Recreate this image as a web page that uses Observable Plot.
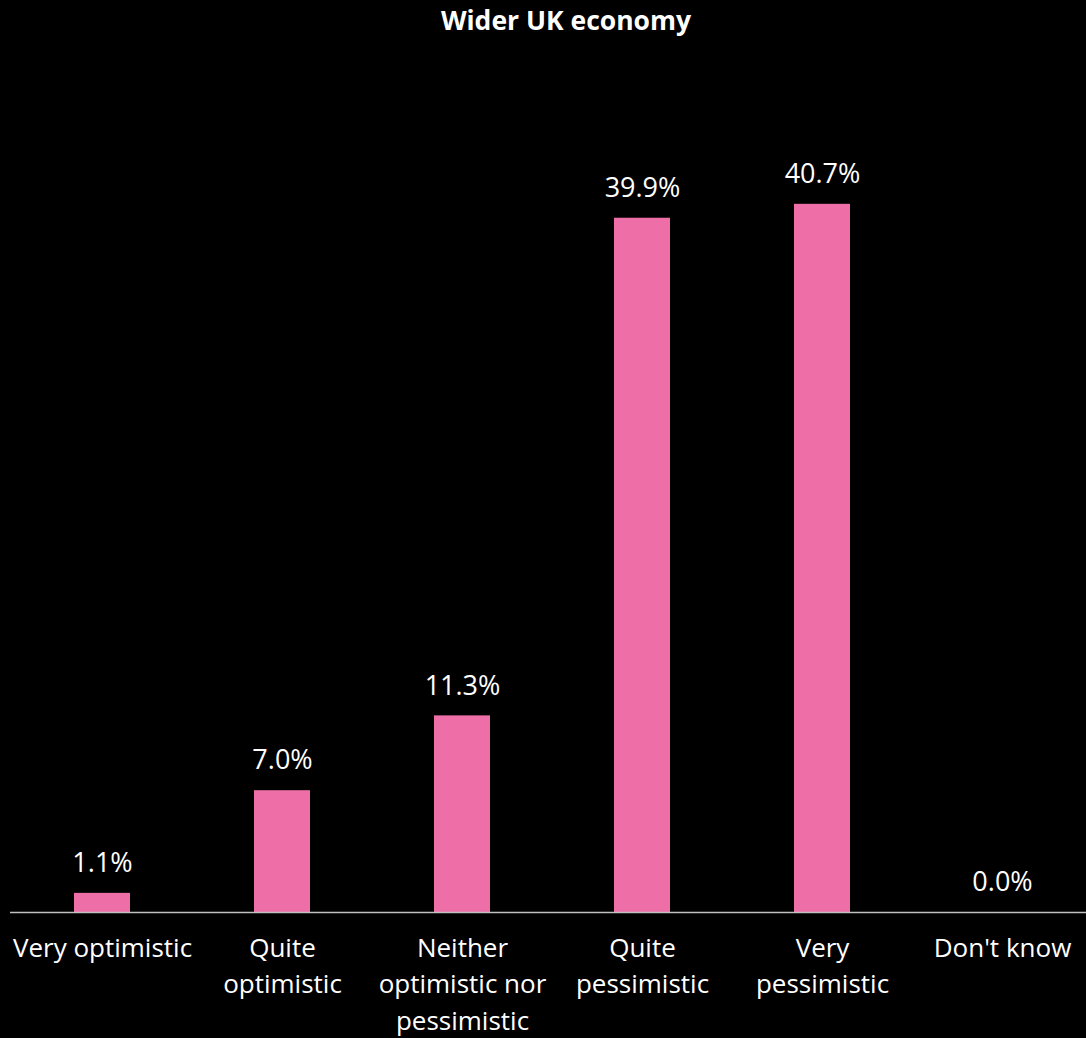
<!DOCTYPE html>
<html>
<head>
<meta charset="utf-8">
<script src="https://cdn.jsdelivr.net/npm/d3@7"></script>
<script src="https://cdn.jsdelivr.net/npm/@observablehq/plot@0.6"></script>
<style>
  html, body { margin: 0; padding: 0; background: #000; }
  #wrap { width: 1086px; height: 1038px; background: #000; overflow: hidden; }
  #title { height: 45px; line-height: 40px; text-align: center; padding-left: 46px; box-sizing: border-box;
           color: #fff; font-family: "Open Sans", Lato, sans-serif; font-weight: bold; font-size: 26.5px; }
</style>
</head>
<body>
<div id="wrap">
  <div id="title">Wider UK economy</div>
  <div id="chart"></div>
</div>
<script>
const categories = ["Very optimistic", "Quite\noptimistic", "Neither\noptimistic nor\npessimistic", "Quite\npessimistic", "Very\npessimistic", "Don't know"];
const values = [1.1, 7.0, 11.3, 39.9, 40.7, 0.0];
const valueLabels = ["1.1%", "7.0%", "11.3%", "39.9%", "40.7%", "0.0%"];

const data = categories.map((c, i) => ({cat: c, value: values[i], label: valueLabels[i]}));

const chart = Plot.plot({
  width: 1086,
  height: 993,
  marginTop: 84,
  marginBottom: 126,
  marginLeft: 10,
  marginRight: 0,
  style: {background: "#000", color: "#fff", fontFamily: "'Open Sans', Lato, sans-serif"},
  x: {type: "band", domain: categories, range: [10, 1093.5], paddingInner: 0.687, paddingOuter: 0.3435, axis: null},
  y: {domain: [0, 45], axis: null},
  marks: [
    Plot.barY(data, {x: "cat", y: "value", fill: "#EE6FA7"}),
    Plot.ruleY([0], {stroke: "#bfbfbf", strokeWidth: 1.5}),
    Plot.text(data, {x: "cat", y: "value", text: "label", dy: -30, fill: "#fff", fontSize: 27, lineAnchor: "middle"}),
    Plot.text(data, {x: "cat", text: "cat", frameAnchor: "bottom", dy: 18, lineAnchor: "top", lineHeight: 1.41, fill: "#fff", fontSize: 26})
  ]
});
document.getElementById("chart").appendChild(chart);
</script>
</body>
</html>
